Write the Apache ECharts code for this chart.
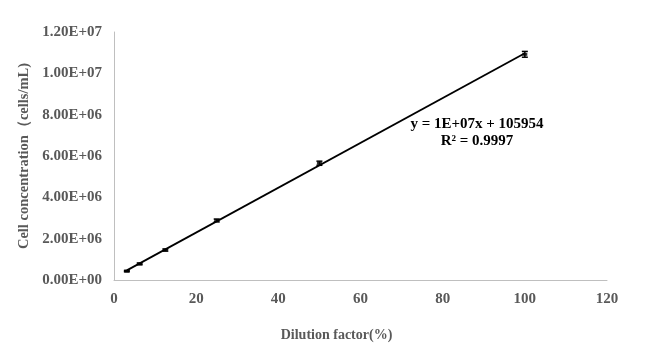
<!DOCTYPE html>
<html>
<head>
<meta charset="utf-8">
<script src="https://cdn.jsdelivr.net/npm/echarts@6/dist/echarts.min.js"></script>
<style>
html, body { margin: 0; padding: 0; background: #fff; }
#main { width: 650px; height: 354px; }
</style>
</head>
<body>
<div id="main"></div>
<script>
// 稀释倍数 (%) 与细胞浓度
var dilution = [3.125, 6.25, 12.5, 25, 50, 100];
var concentration = [4.3e5, 7.8e5, 1.45e6, 2.88e6, 5.65e6, 1.092e7];
var errors = [3e4, 4e4, 5e4, 7e4, 1e5, 1.4e5];
var equationText = ['y = 1E+07x + 105954', 'R² = 0.9997'];

var myChart = echarts.init(document.getElementById('main'));

// 最小二乘趋势线
var n = dilution.length, sx = 0, sy = 0, sxx = 0, sxy = 0;
for (var i = 0; i < n; i++) {
    sx += dilution[i]; sy += concentration[i];
    sxx += dilution[i] * dilution[i]; sxy += dilution[i] * concentration[i];
}
var slope = (n * sxy - sx * sy) / (n * sxx - sx * sx);
var icept = (sy - slope * sx) / n;
var xFirst = dilution[0], xLast = dilution[n - 1];
var trend = [[xFirst, slope * xFirst + icept], [xLast, slope * xLast + icept]];

var points = dilution.map(function (x, i) { return [x, concentration[i]]; });
var errData = dilution.map(function (x, i) {
    return [x, concentration[i] - errors[i], concentration[i] + errors[i]];
});

var font = 'Liberation Serif';

var option = {
    animation: false,
    backgroundColor: '#fff',
    grid: { left: 114, right: 43, top: 32, bottom: 74 },
    xAxis: {
        type: 'value',
        min: 0, max: 120, interval: 20,
        name: 'Dilution factor(%)',
        nameLocation: 'middle',
        nameGap: 48,
        nameTextStyle: { color: '#595959', fontFamily: font, fontWeight: 'bold', fontSize: 14, padding: [0, 48, 0, 0] },
        axisLine: { lineStyle: { color: '#bfbfbf', width: 1 } },
        axisTick: { show: false },
        splitLine: { show: false },
        axisLabel: { color: '#595959', fontFamily: font, fontWeight: 'bold', fontSize: 15, margin: 12 }
    },
    yAxis: {
        type: 'value',
        min: 0, max: 1.2e7, interval: 2e6,
        name: 'Cell concentration（cells/mL)',
        nameLocation: 'middle',
        nameGap: 68,
        nameTextStyle: { color: '#595959', fontFamily: font, fontWeight: 'bold', fontSize: 14.5 },
        axisLine: { show: true, lineStyle: { color: '#bfbfbf', width: 1 } },
        axisTick: { show: false },
        splitLine: { show: false },
        axisLabel: {
            color: '#595959', fontFamily: font, fontWeight: 'bold', fontSize: 15, margin: 12,
            formatter: function (v) {
                if (v === 0) return '0.00E+00';
                var e = Math.floor(Math.log10(v));
                var m = v / Math.pow(10, e);
                return m.toFixed(2) + 'E+' + (e < 10 ? '0' + e : e);
            }
        }
    },
    series: [
        {
            type: 'line',
            data: trend,
            symbol: 'none',
            lineStyle: { color: '#000', width: 1.8 },
            z: 2
        },
        {
            type: 'scatter',
            data: points,
            symbol: 'rect',
            symbolSize: [5, 3],
            itemStyle: { color: '#000' },
            z: 3
        },
        {
            type: 'custom',
            data: errData,
            z: 4,
            renderItem: function (params, api) {
                var x = api.value(0);
                var lo = api.coord([x, api.value(1)]);
                var hi = api.coord([x, api.value(2)]);
                var w = 3;
                var st = { stroke: '#000', lineWidth: 1.5 };
                return {
                    type: 'group',
                    children: [
                        { type: 'line', shape: { x1: lo[0], y1: lo[1], x2: hi[0], y2: hi[1] }, style: st },
                        { type: 'line', shape: { x1: lo[0] - w, y1: lo[1], x2: lo[0] + w, y2: lo[1] }, style: st },
                        { type: 'line', shape: { x1: hi[0] - w, y1: hi[1], x2: hi[0] + w, y2: hi[1] }, style: st }
                    ]
                };
            }
        }
    ],
    graphic: [
        {
            type: 'text', x: 477, y: 124,
            style: { text: equationText[0], fill: '#000', font: 'bold 15px "Liberation Serif"', align: 'center', verticalAlign: 'middle' }
        },
        {
            type: 'text', x: 477, y: 141,
            style: { text: equationText[1], fill: '#000', font: 'bold 15px "Liberation Serif"', align: 'center', verticalAlign: 'middle' }
        }
    ]
};

myChart.setOption(option);
</script>
</body>
</html>
